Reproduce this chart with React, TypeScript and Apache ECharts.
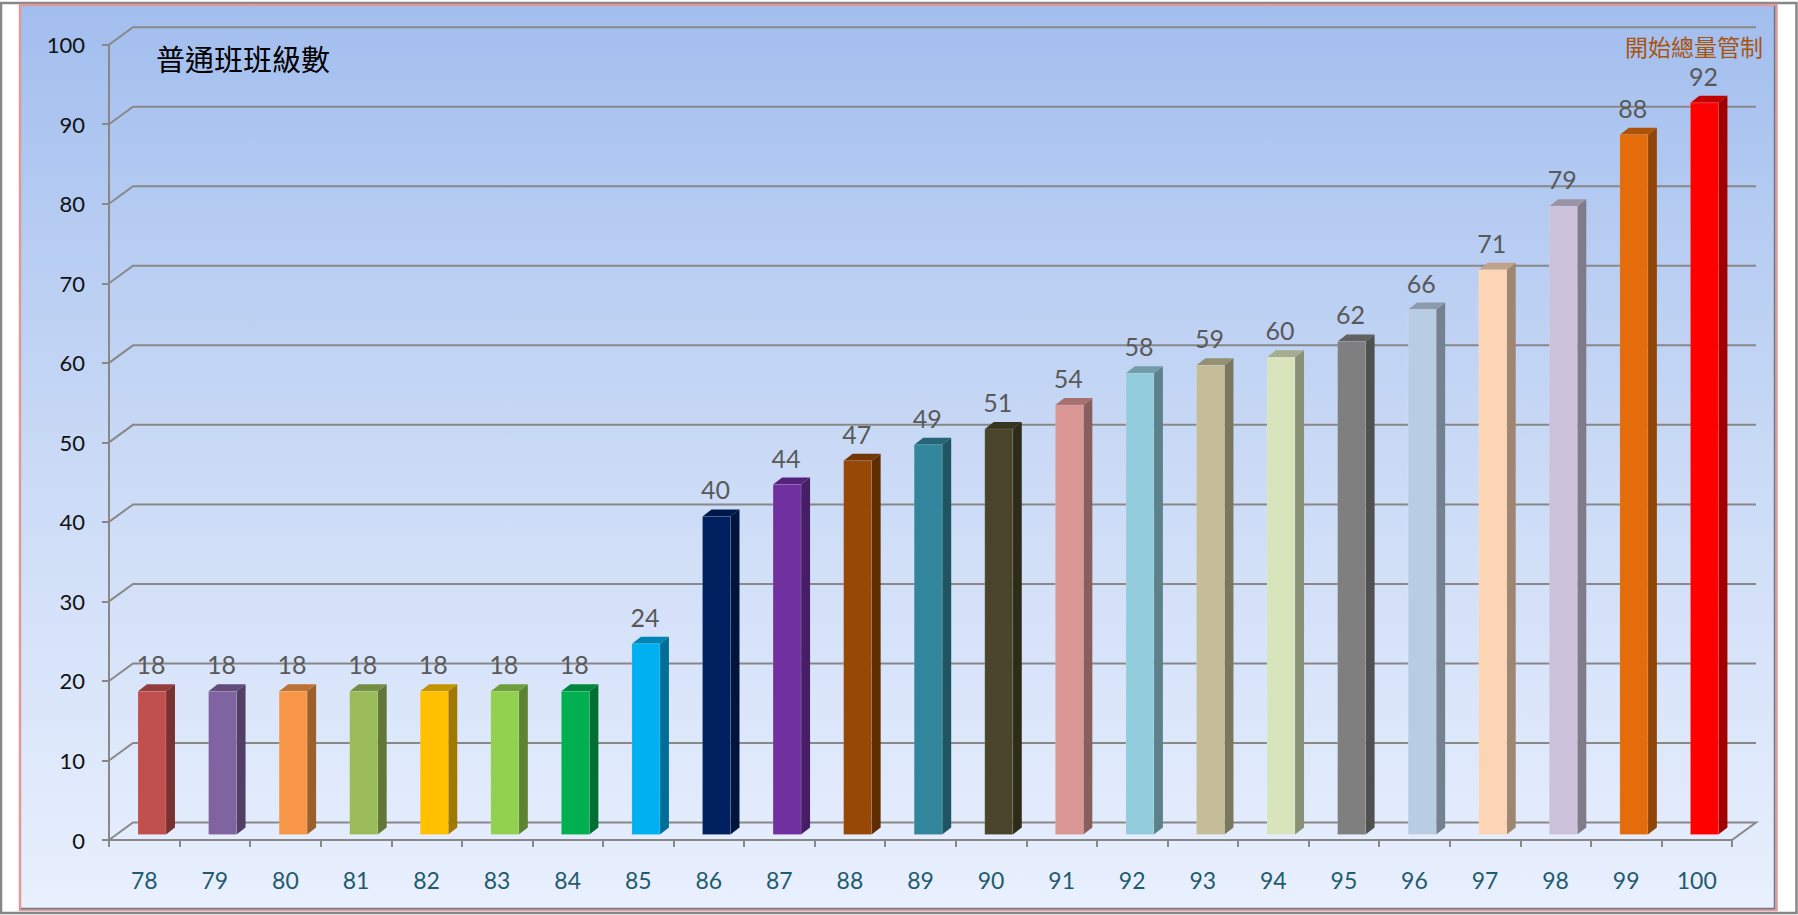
import React, { useEffect, useRef } from "react";
import * as echarts from "echarts";

const categories = ["78","79","80","81","82","83","84","85","86","87","88","89","90","91","92","93","94","95","96","97","98","99","100"];
const classCounts = [18,18,18,18,18,18,18,24,40,44,47,49,51,54,58,59,60,62,66,71,79,88,92];
const barColors = ["#C0504D","#8064A2","#F79646","#9BBB59","#FFC000","#92D050","#00B050","#00B0F0","#002060","#7030A0","#974706","#31859C","#4A452A","#D99694","#93CDDD","#C4BD97","#D8E4BC","#7F7F7F","#B8CCE4","#FCD5B5","#CCC1DA","#E46C0A","#FF0000"];
const yTicks = [0,10,20,30,40,50,60,70,80,90,100];
const chartTitle = "普通班班級數";
const noteText = "開始總量管制";

const WIDTH = 1798;
const HEIGHT = 915;
const LATIN = 'Lato, "Noto Sans", sans-serif';
const CJK = '"Noto Sans CJK TC", sans-serif';
const GRID_COLOR = "#888888";

function shade(hex: string, k: number) {
  const n = parseInt(hex.slice(1), 16);
  const c = [(n >> 16) & 255, (n >> 8) & 255, n & 255].map((v) => Math.round(v * k));
  return `rgb(${c[0]},${c[1]},${c[2]})`;
}

const WALL_DX = 24;
const WALL_DY = -17.5;

const renderWall = (params: any, api: any) => {
  const cs = params.coordSys;
  const v = api.value(0);
  const y = api.coord([0, v])[1];
  const lineStyle = { stroke: GRID_COLOR, lineWidth: 2, fill: "none" };
  const pts =
    v === 0
      ? [
          [cs.x, y],
          [cs.x + WALL_DX, y + WALL_DY],
          [cs.x + cs.width + WALL_DX, y + WALL_DY],
          [cs.x + cs.width, y],
        ]
      : [
          [cs.x, y],
          [cs.x + WALL_DX, y + WALL_DY],
          [cs.x + cs.width + WALL_DX, y + WALL_DY],
        ];
  return { type: "polyline", shape: { points: pts }, style: lineStyle, silent: true };
};

const renderBar = (params: any, api: any) => {
  const i = api.value(0);
  const v = api.value(1);
  const [cx, top] = api.coord([i, v]);
  const [, base] = api.coord([i, 0]);
  const color = barColors[params.dataIndex];
  const offX = 7.7;
  const offY = -5.5;
  const w = 28;
  const dx = 9;
  const dy = -7;
  const l = cx + offX - w / 2;
  const r = l + w;
  const t = top + offY;
  const b = base + offY;
  return {
    type: "group",
    children: [
      {
        type: "polygon",
        shape: { points: [[r, t], [r + dx, t + dy], [r + dx, b + dy], [r, b]] },
        style: { fill: shade(color, 0.63) },
      },
      {
        type: "polygon",
        shape: { points: [[l, t], [l + dx, t + dy], [r + dx, t + dy], [r, t]] },
        style: { fill: shade(color, 0.76) },
      },
      {
        type: "rect",
        shape: { x: l, y: t, width: w, height: b - t },
        style: { fill: color, stroke: "rgba(255,255,255,0.14)", lineWidth: 1 },
      },
      {
        type: "text",
        style: {
          x: l + w / 2 - 1,
          y: t - 27,
          text: String(v),
          fill: "#595959",
          font: `25px ${LATIN}`,
          align: "center",
          verticalAlign: "middle",
        },
      },
    ],
  };
};

export default function App() {
  const ref = useRef<HTMLDivElement>(null);

  useEffect(() => {
    document.body.style.margin = "0";
    const chart = echarts.init(ref.current!, undefined, { renderer: "svg" });
    chart.setOption({
      animation: false,
      backgroundColor: "#FFFFFF",
      title: {
        text: chartTitle,
        left: 156,
        top: 43,
        padding: 0,
        textStyle: { fontFamily: CJK, fontSize: 29, fontWeight: "normal", color: "#000000" },
      },
      graphic: [
        {
          type: "rect",
          z: -10,
          shape: { x: 1, y: 3, width: 1795.5, height: 910 },
          style: { fill: "#FFFFFF", stroke: "#868686", lineWidth: 2.5 },
        },
        {
          type: "rect",
          z: -9,
          shape: { x: 20, y: 5, width: 1756.5, height: 905 },
          style: {
            fill: new echarts.graphic.LinearGradient(0, 0, 0, 1, [
              { offset: 0, color: "#A2BEEE" },
              { offset: 0.5, color: "#CADAF6" },
              { offset: 1, color: "#E9F0FE" },
            ]),
            stroke: "#E09A9A",
            lineWidth: 2.5,
          },
        },
        {
          type: "polyline",
          z: -8,
          shape: { points: [[1774.5, 6], [1774.5, 908.5], [21, 908.5]] },
          style: { stroke: "#6F7787", lineWidth: 1.5, fill: "none" },
        },
        {
          type: "text",
          z: 5,
          style: {
            x: 1625,
            y: 46,
            text: noteText,
            fill: "#A5540F",
            font: `23px ${CJK}`,
            verticalAlign: "middle",
          },
        },
      ],
      grid: { left: 109, top: 44.7, width: 1623, height: 795.3, containLabel: false },
      xAxis: {
        type: "category",
        data: categories,
        boundaryGap: true,
        axisLine: { show: true, lineStyle: { color: GRID_COLOR, width: 2 } },
        axisTick: { show: true, alignWithLabel: false, interval: 0, length: 7, lineStyle: { color: GRID_COLOR, width: 2 } },
        axisLabel: { interval: 0, margin: 28, color: "#1F5B6C", fontSize: 23, fontFamily: LATIN },
        splitLine: { show: false },
      },
      yAxis: {
        type: "value",
        min: 0,
        max: 100,
        interval: 10,
        axisLine: { show: true, lineStyle: { color: GRID_COLOR, width: 2 } },
        axisTick: { show: true, length: 7, lineStyle: { color: GRID_COLOR, width: 2 } },
        axisLabel: { margin: 24, color: "#111111", fontSize: 22, fontFamily: LATIN },
        splitLine: { show: false },
      },
      series: [
        {
          type: "custom",
          name: "wall",
          coordinateSystem: "cartesian2d",
          clip: false,
          silent: true,
          z: 1,
          data: yTicks.map((v) => [v]),
          encode: { y: 0 },
          renderItem: renderWall,
        },
        {
          type: "custom",
          name: chartTitle,
          coordinateSystem: "cartesian2d",
          clip: false,
          z: 3,
          data: classCounts.map((v, i) => [i, v]),
          encode: { x: 0, y: 1 },
          renderItem: renderBar,
        },
      ],
    });
    return () => chart.dispose();
  }, []);

  return <div ref={ref} style={{ width: WIDTH, height: HEIGHT }} />;
}
